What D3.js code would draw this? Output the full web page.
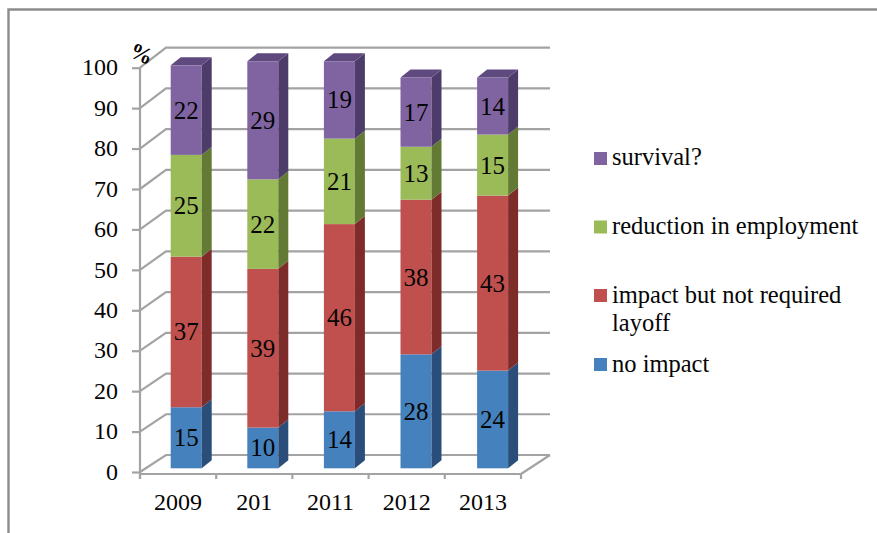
<!DOCTYPE html>
<html>
<head>
<meta charset="utf-8">
<script src="https://cdn.jsdelivr.net/npm/d3@7/dist/d3.min.js"></script>
<style>
html,body{margin:0;padding:0;background:#fff}
svg{display:block}
text{font-family:"Liberation Serif",serif;fill:#050505}
</style>
</head>
<body>
<svg id="chart" width="877" height="533"></svg>
<script>
const years = ["2009", "201", "2011", "2012", "2013"];
const seriesNames = ["no impact", "impact but not required layoff", "reduction in employment", "survival?"];
const noImpact = [15, 10, 14, 28, 24];
const impactNoLayoff = [37, 39, 46, 38, 43];
const reduction = [25, 22, 21, 13, 15];
const survival = [22, 29, 19, 17, 14];
const yTicks = [0, 10, 20, 30, 40, 50, 60, 70, 80, 90, 100];

const faceColors = ["#4581bd", "#c0504d", "#9bbb59", "#8064a2"];
const sideColors = ["#2a4e79", "#7d2c2a", "#637a34", "#4d3c69"];
const topColors = ["#335f92", "#96403d", "#7a9443", "#5f4a80"];

const rows = years.map((year, i) => ({
  year,
  "no impact": noImpact[i],
  "impact but not required layoff": impactNoLayoff[i],
  "reduction in employment": reduction[i],
  "survival?": survival[i]
}));
const stacked = d3.stack().keys(seriesNames)(rows);

const svg = d3.select("#chart");

// Outer frame, open on the right and at the bottom
svg.append("path")
  .attr("d", d3.line()([[8.5, 533], [8.5, 9.5], [877, 9.5]]))
  .attr("fill", "none").attr("stroke", "#8c8c8c").attr("stroke-width", 2.4);

// Oblique projection: front plane of the axis, back wall, and the bar stacks
const gridColor = "#a3a3a3";
const wallDx = 26;
const wallRight = 550;
const yFront = d3.scaleLinear().domain([0, 100]).range([472, 67.7]);
const yBack = d3.scaleLinear().domain([0, 100]).range([455, 47.7]);
const yBar = d3.scaleLinear().domain([0, 100]).range([468.3, 61.3]);
const x = d3.scaleBand().domain(years).range([140, 521]);
const xBar = d3.scaleBand().domain(years).range([170.7, 553.7]);
const barWidth = 31, barDx = 10, barDy = 8;

const grid = svg.append("g").attr("stroke", gridColor).attr("stroke-width", 2.2).attr("fill", "none");
grid.selectAll("path.wall").data(yTicks).join("path").attr("class", "wall")
  .attr("d", t => d3.line()([
    [x.range()[0], yFront(t)],
    [x.range()[0] + wallDx, yBack(t)],
    [wallRight, yBack(t)]
  ]));

// Floor edge running back on the right
grid.append("path").attr("d", d3.line()([[521, 474], [wallRight, yBack(0)]]));

// Value axis
const axisY = d3.axisLeft(yFront).tickValues(yTicks).tickSize(8).tickPadding(14);
const gy = svg.append("g").attr("transform", "translate(140,0)").call(axisY);
gy.select(".domain").attr("d", "M0,67.7V479").attr("stroke", gridColor).attr("stroke-width", 2.2);
gy.selectAll(".tick line").attr("stroke", gridColor).attr("stroke-width", 2.2);
gy.selectAll(".tick text").attr("font-size", 24).attr("dy", "0.3em").style("font-family", '"Liberation Serif",serif');

// Category axis, with marks on the band edges
const axisX = d3.axisBottom(x).tickSizeOuter(0).tickSize(0).tickPadding(19);
const gx = svg.append("g").attr("transform", "translate(0,474)").call(axisX);
gx.select(".domain").attr("d", "M140,0H521").attr("stroke", gridColor).attr("stroke-width", 2.2);
gx.selectAll(".tick text").attr("font-size", 24).style("font-family", '"Liberation Serif",serif');
const edges = years.map(y => x(y)).concat(x.range()[1]);
svg.append("g").selectAll("line").data(edges).join("line")
  .attr("x1", d => d).attr("x2", d => d)
  .attr("y1", 474).attr("y2", 479)
  .attr("stroke", gridColor).attr("stroke-width", 2.2);

// Bars, one stack per year: front face, side face and the cap on the top segment
const bars = svg.append("g");
stacked.forEach((layer, s) => {
  const g = bars.append("g");
  layer.forEach((d, i) => {
    const x0 = xBar(years[i]), x1 = x0 + barWidth;
    const yTop = yBar(d[1]), yBot = yBar(d[0]);
    g.append("rect").attr("x", x0).attr("y", yTop).attr("width", barWidth).attr("height", yBot - yTop)
      .attr("fill", faceColors[s]);
    g.append("path").attr("fill", sideColors[s])
      .attr("d", d3.line()([[x1, yTop], [x1 + barDx, yTop - barDy], [x1 + barDx, yBot - barDy], [x1, yBot]]) + "Z");
    if (s === stacked.length - 1) {
      g.append("path").attr("fill", topColors[s])
        .attr("d", d3.line()([[x0, yTop], [x0 + barDx, yTop - barDy], [x1 + barDx, yTop - barDy], [x1, yTop]]) + "Z");
    }
    g.append("text").attr("x", (x0 + x1) / 2).attr("y", (yTop + yBot) / 2)
      .attr("text-anchor", "middle").attr("dy", "0.34em").attr("font-size", 25)
      .text(d[1] - d[0]);
  });
});

// Unit marker over the value axis
svg.append("text").attr("transform", "translate(128,56) rotate(24)")
  .attr("font-size", 23).attr("font-weight", "bold").text("%");

// Legend, top entry first
const legendEntries = [
  { series: 3, lines: ["survival?"], swatch: 152, base: 165 },
  { series: 2, lines: ["reduction in employment"], swatch: 220.5, base: 234 },
  { series: 1, lines: ["impact but not required", "layoff"], swatch: 289, base: 303 },
  { series: 0, lines: ["no impact"], swatch: 358, base: 372 }
];
const legend = svg.append("g");
legendEntries.forEach(e => {
  legend.append("rect").attr("x", 594).attr("y", e.swatch).attr("width", 13).attr("height", 13)
    .attr("fill", faceColors[e.series]);
  e.lines.forEach((line, i) => {
    legend.append("text").attr("x", 612).attr("y", e.base + i * 28).attr("font-size", 24.5).text(line);
  });
});
</script>
</body>
</html>
